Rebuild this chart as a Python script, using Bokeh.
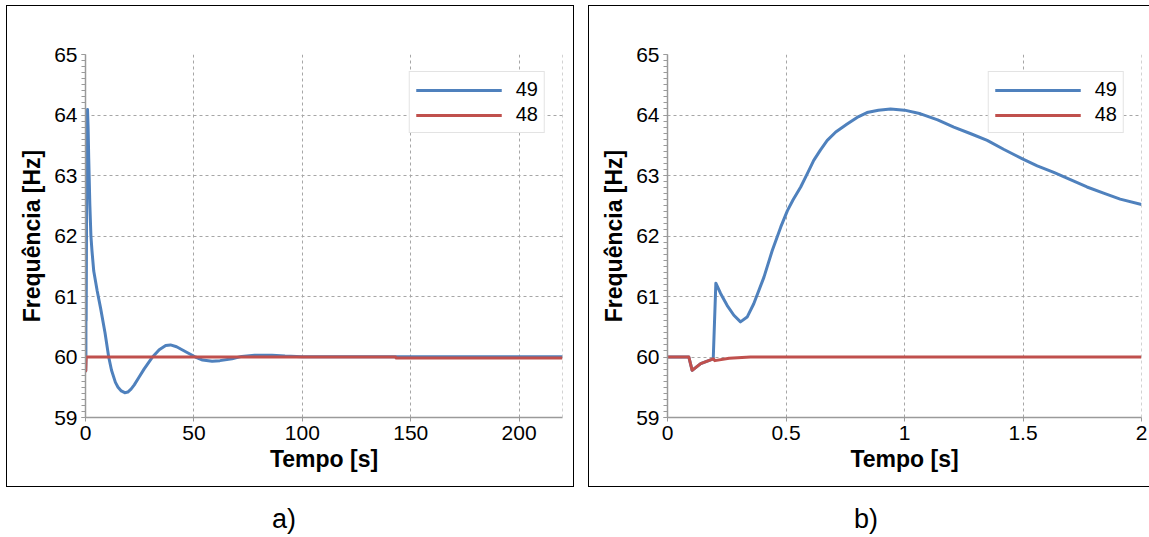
from bokeh.plotting import figure
from bokeh.layouts import row, column
from bokeh.models import Range1d, Span, Div, NumeralTickFormatter, SingleIntervalTicker
from bokeh.embed import file_html
from bokeh.resources import INLINE

# ---- (a) full simulation, 0-220 s ----
t49_a = [0, 0.1, 0.193, 0.204, 0.3, 0.5, 0.7, 0.93, 1.2, 1.5, 2.0, 2.5, 3.0, 3.8, 5.4, 7.0,
         9.0, 10.7, 12.0, 13.8, 15.0, 16.5, 18.1, 19.5, 21.0, 22.5, 24.6, 27.0, 30.7, 34.0,
         37.0, 39.2, 42.0, 46.0, 50.7, 54.0, 58.4, 62.0, 67.6, 72.0, 78.0, 86.0, 92.0,
         100.0, 143.0, 220.0]
f49_a = [60.0, 59.77, 59.97, 61.22, 60.6, 62.4, 63.5, 64.09, 63.8, 63.27, 62.52, 62.0, 61.75,
         61.42, 61.09, 60.8, 60.4, 60.0, 59.78, 59.58, 59.5, 59.44, 59.41, 59.42, 59.47,
         59.54, 59.66, 59.8, 59.99, 60.12, 60.19, 60.2, 60.17, 60.09, 60.0, 59.95, 59.93,
         59.94, 59.97, 60.01, 60.03, 60.03, 60.015, 60.005, 60.005, 60.005]
t48_a = [0, 0.1, 0.3, 143.0, 143.2, 220.0]
f48_a = [60.0, 59.77, 60.0, 60.0, 59.985, 59.985]

# ---- (b) first 2 s of the same event ----
t49_b = [0, 0.09, 0.104, 0.14, 0.193, 0.204, 0.224, 0.252, 0.28, 0.308, 0.336, 0.364, 0.407,
         0.442, 0.478, 0.506, 0.53, 0.562, 0.59, 0.617, 0.645, 0.674, 0.71, 0.758, 0.8,
         0.842, 0.89, 0.941, 1.0, 1.068, 1.14, 1.208, 1.28, 1.349, 1.42, 1.5, 1.56, 1.63,
         1.7, 1.77, 1.84, 1.91, 2.0]
f49_b = [60.0, 60.0, 59.78, 59.89, 59.97, 61.22, 61.05, 60.85, 60.69, 60.58, 60.66, 60.88,
         61.32, 61.76, 62.15, 62.42, 62.6, 62.81, 63.03, 63.25, 63.42, 63.58, 63.72, 63.85,
         63.96, 64.04, 64.08, 64.10, 64.08, 64.02, 63.92, 63.80, 63.69, 63.58, 63.43, 63.27,
         63.16, 63.05, 62.93, 62.81, 62.71, 62.61, 62.52]
t48_b = [0, 0.09, 0.104, 0.14, 0.193, 0.2, 0.26, 0.35, 2.0]
f48_b = [60.0, 60.0, 59.78, 59.89, 59.97, 59.94, 59.98, 60.0, 60.0]

series_names = ["49", "48"]
y_min, y_max = 59, 65

BLUE = "#4f81bd"
RED = "#c0504d"
GRID = "#a6a6a6"
AXIS = "#9a9a9a"
FONT = "Liberation Sans"


def make_panel(t49, f49, t48, f48, x_end, x_step, width, margin, right_border):
    p = figure(width=width, height=480,
               x_range=Range1d(0, x_end), y_range=Range1d(y_min, y_max),
               output_backend="svg", toolbar_location=None,
               min_border_left=78, min_border_right=right_border,
               min_border_top=48, min_border_bottom=69,
               margin=margin)
    p.outline_line_color = None
    p.background_fill_color = "white"
    p.border_fill_color = "white"
    p.styles = {"outline": "1.3px solid #000"}

    p.line(t49, f49, line_color=BLUE, line_width=3, line_join="round",
           legend_label=series_names[0])
    p.line(t48, f48, line_color=RED, line_width=3, line_join="round",
           legend_label=series_names[1])

    # x axis
    xa = p.xaxis[0]
    xa.ticker = SingleIntervalTicker(interval=x_step, num_minor_ticks=0)
    xa.axis_label = "Tempo [s]"
    # y axis
    ya = p.yaxis[0]
    ya.ticker = SingleIntervalTicker(interval=1, num_minor_ticks=10)
    ya.axis_label = "Frequência [Hz]"

    for ax in (xa, ya):
        ax.axis_line_color = AXIS
        ax.axis_line_width = 1.5
        ax.major_tick_line_color = AXIS
        ax.minor_tick_line_color = AXIS
        ax.major_tick_in = 0
        ax.major_tick_out = 4
        ax.minor_tick_in = 0
        ax.minor_tick_out = 4
        ax.major_label_text_font = FONT
        ax.major_label_text_font_size = "21px"
        ax.major_label_text_color = "black"
        ax.axis_label_text_font = FONT
        ax.axis_label_text_font_size = "23px"
        ax.axis_label_text_font_style = "bold"
        ax.axis_label_text_color = "black"
    xa.major_label_standoff = 4
    xa.axis_label_standoff = 3
    ya.major_label_standoff = 4
    ya.axis_label_standoff = 6

    for g in (p.xgrid[0], p.ygrid[0]):
        g.grid_line_color = GRID
        g.grid_line_dash = "3 3"
        g.grid_line_width = 1

    # dashed closing line on the right edge of the frame
    p.add_layout(Span(location=x_end, dimension="height", line_color=GRID,
                      line_dash="3 3", line_width=1))

    lg = p.legend[0]
    lg.location = "top_right"
    lg.margin = 17
    lg.padding = 6
    lg.spacing = 2
    lg.glyph_width = 86
    lg.glyph_height = 20
    lg.label_standoff = 14
    lg.label_text_font = FONT
    lg.label_text_font_size = "20px"
    lg.label_text_color = "black"
    lg.border_line_color = "#c8c8c8"
    lg.border_line_width = 1.5
    lg.background_fill_alpha = 1.0
    return p


pa = make_panel(t49_a, f49_a, t48_a, f48_a, 220, 50, 566, (6, 0, 0, 7), 11)
pb = make_panel(t49_b, f49_b, t48_b, f48_b, 2, 0.5, 561, (6, 0, 0, 16), 9)
pb.xaxis[0].formatter = NumeralTickFormatter(format="0.[0]")

cap_style = {"font-family": FONT, "font-size": "27px", "text-align": "center",
             "color": "black"}
cap_a = Div(text="a)", width=60, height=32, margin=(14, 0, 0, 254), styles=cap_style)
cap_b = Div(text="b)", width=60, height=32, margin=(14, 0, 0, 522), styles=cap_style)

p = column(row(pa, pb), row(cap_a, cap_b))

with open("out.html", "w") as fh:
    fh.write(file_html(p, INLINE))
